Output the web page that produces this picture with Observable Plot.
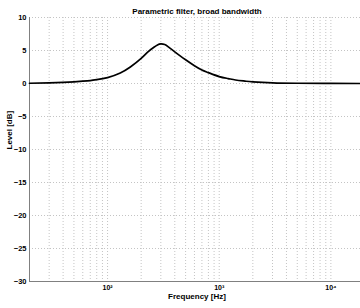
<!DOCTYPE html>
<html><head><meta charset="utf-8">
<script src="https://cdn.jsdelivr.net/npm/d3@7"></script>
<script src="https://cdn.jsdelivr.net/npm/@observablehq/plot@0.6"></script>
<style>
body{margin:0;background:#fff}
svg{font-family:"Liberation Sans",Arial,sans-serif}
</style>
</head><body><div id="chart"></div>
<script>
const title = "Parametric filter, broad bandwidth";
const xLabel = "Frequency [Hz]";
const yLabel = "Level [dB]";
const freqs = [20, 30, 40, 50, 60, 70, 80, 100, 130, 160, 200, 230, 260, 280, 300, 325, 350, 400, 450, 500, 600, 700, 800, 1000, 1200, 1400, 1700, 2000, 3000, 5000, 10000, 20000];
const levels = [0.04, 0.09, 0.16, 0.25, 0.35, 0.45, 0.58, 0.9, 1.6, 2.5, 3.8, 4.8, 5.5, 5.85, 6.0, 5.9, 5.55, 4.8, 4.15, 3.6, 2.7, 2.05, 1.65, 1.05, 0.75, 0.53, 0.36, 0.25, 0.1, 0.04, 0.01, 0];
const xMajorTicks = [100, 1000, 10000];
const xMajorLabels = ["10\u00b2", "10\u00b3", "10\u2074"];
const xGridTicks = [30, 40, 50, 60, 70, 80, 90, 100, 200, 300, 400, 500, 600, 700, 800, 900, 1000, 2000, 3000, 4000, 5000, 6000, 7000, 8000, 9000, 10000, 20000];
const yTicks = [-30, -25, -20, -15, -10, -5, 0, 5, 10];

const data = freqs.map((f, i) => ({f, level: levels[i]}));
const font = "Liberation Sans, Arial, sans-serif";

const chart = Plot.plot({
  width: 360, height: 308,
  marginLeft: 29, marginRight: -4, marginTop: 17, marginBottom: 27,
  style: {fontFamily: font, fontSize: "7px", color: "#000", background: "#fff", overflow: "hidden"},
  x: {type: "log", domain: [20, 20000]},
  y: {domain: [-30, 10]},
  marks: [
    Plot.gridX(xGridTicks, {stroke: "#c4c4c4", strokeOpacity: 1, strokeDasharray: "1,2"}),
    Plot.gridY(yTicks, {stroke: "#c4c4c4", strokeOpacity: 1, strokeDasharray: "1,2"}),
    Plot.ruleX([20], {stroke: "#808080"}),
    Plot.ruleY([-30], {stroke: "#808080"}),
    Plot.axisX(xMajorTicks, {tickSize: 0, tickPadding: 4, tickFormat: (d) => xMajorLabels[xMajorTicks.indexOf(d)], label: null, fontWeight: "bold"}),
    Plot.axisY(yTicks, {tickSize: 0, tickPadding: 3, label: null, fontWeight: "bold", fontSize: 7.5}),
    Plot.line(data, {x: "f", y: "level", stroke: "#000", strokeWidth: 1.7, curve: "natural"}),
    Plot.text([title], {text: d => d, frameAnchor: "top", dy: -9, fontWeight: "bold", fontSize: 8}),
    Plot.text([xLabel], {text: d => d, frameAnchor: "bottom", dy: 17, fontWeight: "bold", fontSize: 8}),
    Plot.text([yLabel], {text: d => d, frameAnchor: "left", dx: -20, rotate: -90, fontWeight: "bold", fontSize: 8})
  ]
});
document.getElementById("chart").append(chart);
</script>
</body></html>
